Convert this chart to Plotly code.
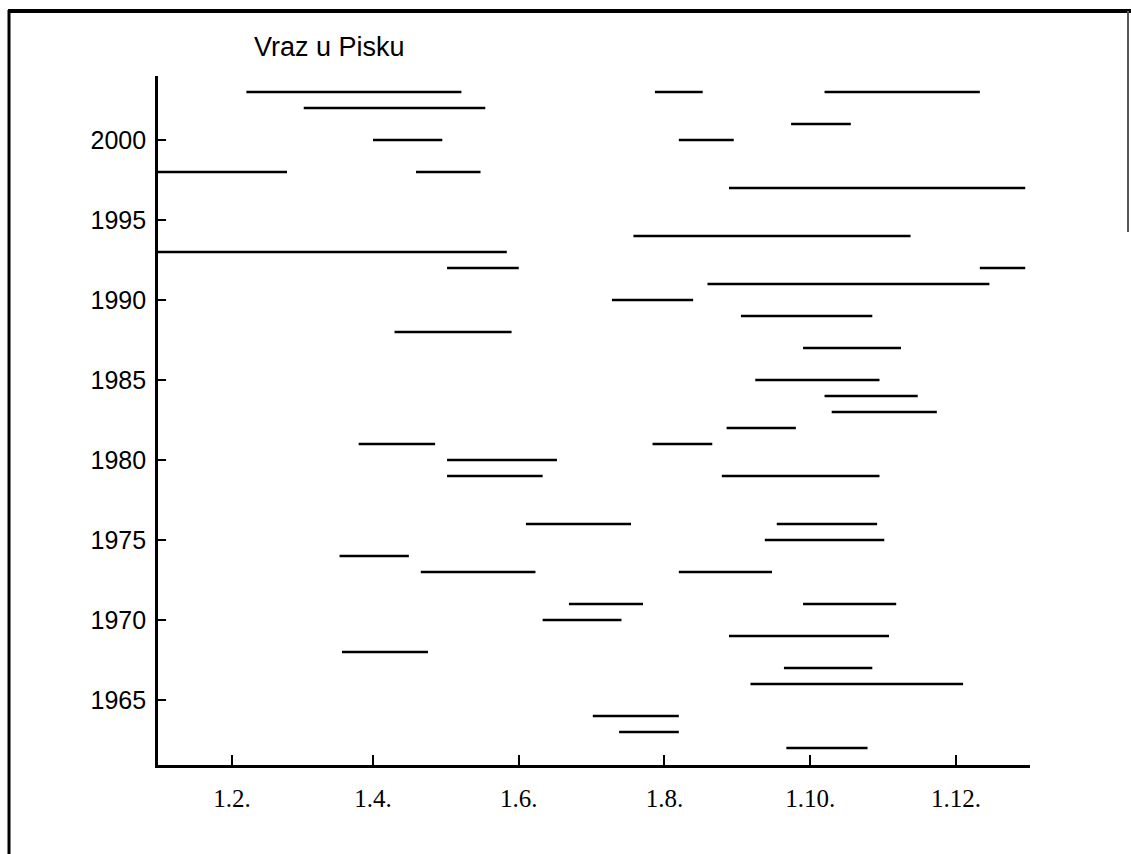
import plotly.graph_objects as go

# Periods per year (day.month within the year), drawn as horizontal bars
years = [2003, 2003, 2003, 2002, 2001, 2000, 2000, 1998, 1998, 1997,
         1994, 1993, 1992, 1992, 1991, 1990, 1989, 1988, 1987, 1985,
         1984, 1983, 1982, 1981, 1981, 1980, 1979, 1979, 1976, 1976,
         1975, 1974, 1973, 1973, 1971, 1971, 1970, 1969, 1968, 1967,
         1966, 1964, 1963, 1962]
starts = ["02-07", "07-28", "10-07", "03-03", "09-23", "04-01", "08-07", "01-01", "04-19", "08-28",
          "07-19", "01-01", "05-02", "12-11", "08-19", "07-10", "09-02", "04-10", "09-28", "09-08",
          "10-07", "10-10", "08-27", "03-26", "07-27", "05-02", "05-02", "08-25", "06-04", "09-17",
          "09-12", "03-18", "04-21", "08-07", "06-22", "09-28", "06-11", "08-28", "03-19", "09-20",
          "09-06", "07-02", "07-13", "09-21"]
ends = ["05-08", "08-17", "12-11", "05-18", "10-18", "04-30", "08-30", "02-24", "05-16", "12-30",
        "11-12", "05-27", "06-01", "12-30", "12-15", "08-13", "10-27", "05-29", "11-08", "10-30",
        "11-15", "11-23", "09-25", "04-27", "08-21", "06-17", "06-11", "10-30", "07-18", "10-29",
        "11-01", "04-16", "06-08", "09-15", "07-23", "11-06", "07-14", "11-03", "04-24", "10-27",
        "12-04", "08-07", "08-07", "10-25"]

tick_months = ["02-01", "04-01", "06-01", "08-01", "10-01", "12-01"]
tick_labels = ["1.2.", "1.4.", "1.6.", "1.8.", "1.10.", "1.12."]
year_ticks = [1965, 1970, 1975, 1980, 1985, 1990, 1995, 2000]

REF = "2001-"  # common non-leap year used to place day.month on one axis

xs, ys = [], []
for yr, s, e in zip(years, starts, ends):
    xs += [REF + s, REF + e, None]
    ys += [yr, yr, None]

fig = go.Figure()
fig.add_trace(go.Scatter(x=xs, y=ys, mode="lines",
                         line=dict(color="black", width=2.6),
                         hoverinfo="skip"))

W, H = 1131, 854
L, R, T, B = 158, 1030, 76, 765


def px(xp):
    return (xp - L) / (R - L)


def py(yp):
    return 1 - (yp - T) / (B - T)


frame = dict(type="line", xref="paper", yref="paper")
shapes = [
    dict(frame, x0=px(9), x1=px(9), y0=py(860), y1=py(10), line=dict(color="black", width=3)),
    dict(frame, x0=px(8), x1=px(1131), y0=py(11), y1=py(11), line=dict(color="black", width=4)),
    dict(frame, x0=px(1128), x1=px(1128), y0=py(11), y1=py(232), line=dict(color="#555", width=2)),
]

fig.update_layout(
    width=W, height=H,
    margin=dict(l=L, r=W - R, t=T, b=H - B, pad=0),
    paper_bgcolor="white", plot_bgcolor="white",
    showlegend=False,
    shapes=shapes,
    annotations=[dict(text="Vraz u Pisku", xref="paper", yref="paper",
                      x=px(252), y=py(47), xanchor="left", yanchor="middle",
                      showarrow=False,
                      font=dict(family="Liberation Sans", size=27, color="black"))],
    xaxis=dict(type="date", range=["2001-01-01", "2002-01-01"],
               tickvals=[REF + m for m in tick_months], ticktext=tick_labels,
               ticks="inside", ticklen=10, tickwidth=2, tickcolor="black",
               showline=True, linecolor="black", linewidth=2.6,
               showgrid=False, zeroline=False, ticklabelstandoff=9,
               tickfont=dict(family="Liberation Serif", size=25, color="black")),
    yaxis=dict(range=[1960.94, 2004.0],
               tickvals=year_ticks, ticktext=[str(v) for v in year_ticks],
               ticks="inside", ticklen=8, tickwidth=2, tickcolor="black",
               showline=True, linecolor="black", linewidth=2.6,
               showgrid=False, zeroline=False, ticklabelstandoff=4,
               tickfont=dict(family="Liberation Sans", size=25, color="black")),
)

fig.write_html("out.html")
